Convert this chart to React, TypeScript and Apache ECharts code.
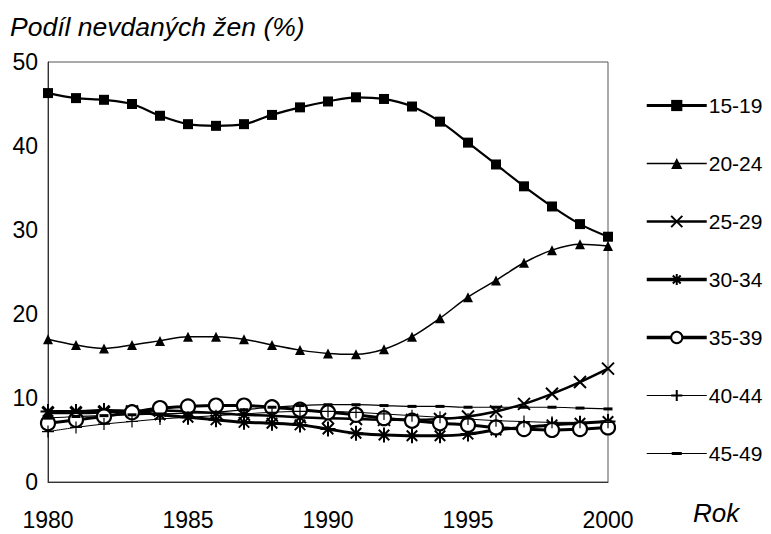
import React, { useEffect, useRef } from "react";
import * as echarts from "echarts";

const years = [1980,1981,1982,1983,1984,1985,1986,1987,1988,1989,1990,1991,1992,1993,1994,1995,1996,1997,1998,1999,2000];
const s15_19 = [46.3,45.7,45.5,45.0,43.6,42.6,42.4,42.6,43.7,44.6,45.3,45.8,45.6,44.7,42.9,40.4,37.8,35.2,32.8,30.7,29.2];
const s20_24 = [17.0,16.3,15.9,16.3,16.8,17.3,17.3,17.0,16.3,15.7,15.3,15.2,15.8,17.3,19.5,22.0,24.0,26.1,27.6,28.3,28.1];
const s25_29 = [8.2,8.2,8.3,8.4,8.5,8.4,8.2,8.0,7.9,7.7,7.6,7.5,7.4,7.4,7.5,7.8,8.4,9.3,10.5,11.9,13.5];
const s30_34 = [8.4,8.4,8.5,8.4,8.0,7.7,7.4,7.1,7.0,6.8,6.3,5.8,5.6,5.5,5.5,5.7,6.2,6.5,6.8,7.0,7.2];
const s35_39 = [7.0,7.4,7.8,8.3,8.8,9.0,9.1,9.1,8.9,8.6,8.3,8.0,7.6,7.3,7.0,6.8,6.5,6.3,6.2,6.3,6.5];
const s40_44 = [6.0,6.5,6.9,7.2,7.5,7.7,7.9,8.1,8.3,8.4,8.4,8.3,8.1,7.9,7.7,7.5,7.3,7.2,7.1,7.1,7.1];
const s45_49 = [7.6,7.8,7.9,8.0,8.1,8.2,8.3,8.6,8.9,9.1,9.2,9.2,9.1,9.0,9.0,8.9,8.9,8.9,8.9,8.8,8.7];
const names = ["15-19","20-24","25-29","30-34","35-39","40-44","45-49"];
const yTicks = [0, 10, 20, 30, 40, 50];

const FONT = "'Liberation Sans', Arial, sans-serif";

const X_PATH = "path://M0,0L10,10M10,0L0,10";
const AST_PATH = "path://M5,0L5,10M0,5L10,5M1.5,1.5L8.5,8.5M8.5,1.5L1.5,8.5";
const PLUS_PATH = "path://M5,0L5,10M0,5L10,5";
const DASH_PATH = "path://M0,0L9,0L9,3L0,3Z";
const DASH_LEGEND =
  "path://M0,0L0.01,0L0,0.01ZM60,14L59.99,14L60,13.99ZM0,6.4L60,6.4L60,7.6L0,7.6ZM25,5.5L35,5.5L35,8.5L25,8.5Z";

const legendWidths = [3, 1.5, 2.5, 3.5, 3.5, 1, 1.2];

function mk(name: string, data: number[], opts: any) {
  return {
    name,
    type: "line",
    smooth: 0.35,
    data: data.map((v, i) => [years[i], v]),
    symbol: opts.symbol,
    symbolSize: opts.size,
    symbolKeepAspect: true,
    showAllSymbol: true,
    lineStyle: { color: "#000", width: opts.width },
    itemStyle: {
      color: opts.fill ?? "#000",
      borderColor: "#000",
      borderWidth: opts.bw ?? 0,
    },
    emphasis: { disabled: true },
    z: opts.z ?? 2,
  };
}

export default function App() {
  const ref = useRef<HTMLDivElement>(null);
  useEffect(() => {
    const chart = echarts.init(ref.current!, null, { renderer: "svg" });
    chart.setOption({
      animation: false,
      backgroundColor: "#fff",
      textStyle: { fontFamily: FONT },
      grid: { left: 48, right: 163, top: 62, bottom: 52, show: true, borderColor: "#555", borderWidth: 1 },
      xAxis: {
        type: "value",
        min: 1980,
        max: 2000,
        interval: 5,
        axisLine: { show: true, lineStyle: { color: "#333" } },
        axisTick: { show: false },
        splitLine: { show: false },
        axisLabel: { fontSize: 23, color: "#000", margin: 26, fontFamily: FONT, formatter: (v: number) => String(v) },
      },
      yAxis: {
        type: "value",
        min: yTicks[0],
        max: yTicks[yTicks.length - 1],
        interval: 10,
        axisLine: { show: true, lineStyle: { color: "#333" } },
        axisTick: { show: false },
        splitLine: { show: false },
        axisLabel: { fontSize: 23, color: "#000", margin: 10, fontFamily: FONT },
      },
      legend: {
        orient: "vertical",
        left: 640,
        top: 90,
        itemWidth: 60,
        itemHeight: 14,
        itemGap: 37,
        data: names.map((n, i) =>
          i === 6
            ? { name: n, icon: DASH_LEGEND, itemStyle: { color: "#000", borderWidth: 0 } }
            : { name: n, lineStyle: { width: legendWidths[i], color: "#000" } }
        ),
        textStyle: { fontSize: 21, color: "#000", fontFamily: FONT, padding: [0, 0, 0, -3] },
        selectedMode: false,
      },
      graphic: [
        { type: "text", left: 10, top: 13, style: { text: "Podíl nevdaných žen (%)", fontSize: 26.5, fontStyle: "italic", fill: "#000", fontFamily: FONT } },
        { type: "text", left: 693, top: 500, style: { text: "Rok", fontSize: 26, fontStyle: "italic", fill: "#000", fontFamily: FONT } },
      ],
      series: [
        mk(names[0], s15_19, { symbol: "rect", size: 10, width: 2.2 }),
        mk(names[1], s20_24, { symbol: "triangle", size: 10, width: 1.5 }),
        mk(names[2], s25_29, { symbol: X_PATH, size: 12, width: 2.5, bw: 2 }),
        mk(names[3], s30_34, { symbol: AST_PATH, size: 15, width: 3, bw: 2 }),
        mk(names[4], s35_39, { symbol: "circle", size: 14, width: 3, bw: 2.2, fill: "#fff" }),
        mk(names[5], s40_44, { symbol: PLUS_PATH, size: 12, width: 1, bw: 1.2 }),
        mk(names[6], s45_49, { symbol: DASH_PATH, size: 9, width: 1.2 }),
      ],
    });
    return () => chart.dispose();
  }, []);
  return <div ref={ref} style={{ width: 771, height: 534, position: "absolute", left: 0, top: 0 }} />;
}
